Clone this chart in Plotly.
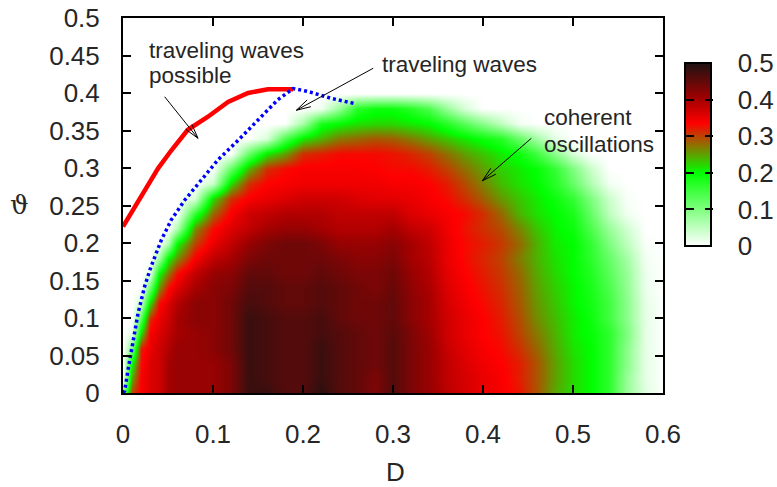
import numpy as np
import plotly.graph_objects as go

# ---------------- data ----------------
D_cols = [0.0, 0.01, 0.02, 0.03, 0.04, 0.05, 0.06,
          0.08, 0.10, 0.12, 0.14, 0.16, 0.18, 0.20, 0.22, 0.24, 0.26, 0.28, 0.30,
          0.32, 0.34, 0.36, 0.38, 0.40, 0.42, 0.44, 0.46, 0.48, 0.50, 0.52, 0.54,
          0.56, 0.58, 0.60]
theta_rows = [0.00, 0.02, 0.04, 0.06, 0.08, 0.10, 0.12, 0.14, 0.16, 0.18, 0.20,
              0.22, 0.24, 0.26, 0.28, 0.30, 0.32, 0.34, 0.36, 0.38, 0.40]

Z = [
    [0.1, 0.3, 0.34, 0.36, 0.37, 0.40, 0.41, 0.41, 0.41, 0.43, 0.48, 0.48, 0.46, 0.46, 0.49, 0.46, 0.45, 0.43, 0.46, 0.43, 0.41, 0.385, 0.365, 0.35, 0.34, 0.325, 0.29, 0.245, 0.22, 0.2, 0.165, 0.08, 0.025, 0.0],
    [0.0, 0.25, 0.34, 0.36, 0.37, 0.40, 0.41, 0.41, 0.41, 0.43, 0.48, 0.47, 0.46, 0.46, 0.48, 0.46, 0.45, 0.43, 0.46, 0.43, 0.41, 0.38, 0.365, 0.35, 0.34, 0.32, 0.29, 0.25, 0.22, 0.2, 0.165, 0.08, 0.02, 0.0],
    [0.0, 0.2, 0.33, 0.36, 0.37, 0.40, 0.41, 0.41, 0.41, 0.43, 0.48, 0.47, 0.46, 0.46, 0.48, 0.46, 0.45, 0.44, 0.46, 0.43, 0.41, 0.38, 0.36, 0.345, 0.335, 0.32, 0.29, 0.25, 0.22, 0.2, 0.165, 0.09, 0.02, 0.0],
    [0.0, 0.1, 0.32, 0.35, 0.37, 0.39, 0.41, 0.41, 0.42, 0.44, 0.48, 0.47, 0.46, 0.46, 0.48, 0.46, 0.45, 0.44, 0.46, 0.43, 0.41, 0.375, 0.355, 0.34, 0.33, 0.31, 0.28, 0.245, 0.215, 0.2, 0.165, 0.09, 0.02, 0.0],
    [0.0, 0.02, 0.22, 0.34, 0.36, 0.38, 0.40, 0.41, 0.42, 0.44, 0.48, 0.47, 0.46, 0.46, 0.47, 0.46, 0.45, 0.44, 0.455, 0.43, 0.405, 0.37, 0.35, 0.335, 0.325, 0.3, 0.27, 0.24, 0.21, 0.195, 0.165, 0.1, 0.02, 0.0],
    [0.0, 0.0, 0.13, 0.31, 0.35, 0.37, 0.40, 0.42, 0.42, 0.44, 0.48, 0.47, 0.46, 0.46, 0.47, 0.45, 0.44, 0.44, 0.45, 0.42, 0.40, 0.37, 0.35, 0.335, 0.32, 0.295, 0.26, 0.235, 0.21, 0.19, 0.15, 0.09, 0.02, 0.0],
    [0.0, 0.0, 0.04, 0.22, 0.33, 0.36, 0.39, 0.42, 0.42, 0.44, 0.47, 0.46, 0.45, 0.45, 0.46, 0.45, 0.44, 0.44, 0.45, 0.42, 0.40, 0.365, 0.345, 0.33, 0.315, 0.29, 0.255, 0.23, 0.205, 0.185, 0.15, 0.09, 0.02, 0.0],
    [0.0, 0.0, 0.0, 0.12, 0.26, 0.33, 0.36, 0.40, 0.42, 0.43, 0.46, 0.46, 0.45, 0.45, 0.46, 0.45, 0.44, 0.43, 0.445, 0.415, 0.395, 0.36, 0.34, 0.325, 0.31, 0.285, 0.25, 0.225, 0.205, 0.18, 0.14, 0.085, 0.015, 0.0],
    [0.0, 0.0, 0.0, 0.02, 0.2, 0.27, 0.33, 0.38, 0.41, 0.42, 0.45, 0.45, 0.44, 0.44, 0.45, 0.44, 0.43, 0.43, 0.44, 0.41, 0.39, 0.355, 0.335, 0.32, 0.305, 0.28, 0.245, 0.22, 0.2, 0.175, 0.13, 0.08, 0.015, 0.0],
    [0.0, 0.0, 0.0, 0.0, 0.07, 0.2, 0.26, 0.34, 0.38, 0.40, 0.43, 0.44, 0.44, 0.44, 0.44, 0.43, 0.42, 0.42, 0.43, 0.40, 0.385, 0.35, 0.33, 0.315, 0.3, 0.27, 0.24, 0.215, 0.2, 0.165, 0.12, 0.07, 0.01, 0.0],
    [0.0, 0.0, 0.0, 0.0, 0.0, 0.06, 0.2, 0.3, 0.35, 0.38, 0.41, 0.43, 0.44, 0.44, 0.43, 0.41, 0.41, 0.41, 0.42, 0.40, 0.38, 0.35, 0.33, 0.32, 0.305, 0.28, 0.24, 0.21, 0.2, 0.16, 0.1, 0.05, 0.005, 0.0],
    [0.0, 0.0, 0.0, 0.0, 0.0, 0.0, 0.06, 0.26, 0.33, 0.36, 0.38, 0.40, 0.41, 0.41, 0.40, 0.39, 0.39, 0.39, 0.40, 0.38, 0.37, 0.345, 0.325, 0.31, 0.295, 0.265, 0.23, 0.205, 0.19, 0.14, 0.08, 0.035, 0.0, 0.0],
    [0.0, 0.0, 0.0, 0.0, 0.0, 0.0, 0.0, 0.16, 0.28, 0.34, 0.37, 0.38, 0.39, 0.39, 0.39, 0.38, 0.38, 0.38, 0.38, 0.36, 0.35, 0.34, 0.33, 0.31, 0.28, 0.24, 0.215, 0.2, 0.18, 0.12, 0.05, 0.01, 0.0, 0.0],
    [0.0, 0.0, 0.0, 0.0, 0.0, 0.0, 0.0, 0.03, 0.22, 0.31, 0.34, 0.35, 0.36, 0.37, 0.37, 0.37, 0.36, 0.355, 0.355, 0.35, 0.34, 0.33, 0.31, 0.285, 0.255, 0.23, 0.21, 0.19, 0.16, 0.1, 0.04, 0.005, 0.0, 0.0],
    [0.0, 0.0, 0.0, 0.0, 0.0, 0.0, 0.0, 0.0, 0.04, 0.22, 0.31, 0.335, 0.34, 0.345, 0.345, 0.345, 0.345, 0.345, 0.34, 0.34, 0.335, 0.32, 0.295, 0.265, 0.235, 0.215, 0.2, 0.17, 0.12, 0.06, 0.01, 0.0, 0.0, 0.0],
    [0.0, 0.0, 0.0, 0.0, 0.0, 0.0, 0.0, 0.0, 0.0, 0.12, 0.24, 0.31, 0.33, 0.34, 0.34, 0.34, 0.34, 0.335, 0.33, 0.33, 0.32, 0.3, 0.275, 0.25, 0.225, 0.21, 0.195, 0.16, 0.1, 0.04, 0.0, 0.0, 0.0, 0.0],
    [0.0, 0.0, 0.0, 0.0, 0.0, 0.0, 0.0, 0.0, 0.0, 0.0, 0.12, 0.21, 0.25, 0.31, 0.32, 0.33, 0.33, 0.33, 0.325, 0.315, 0.3, 0.275, 0.25, 0.23, 0.21, 0.19, 0.15, 0.09, 0.03, 0.0, 0.0, 0.0, 0.0, 0.0],
    [0.0, 0.0, 0.0, 0.0, 0.0, 0.0, 0.0, 0.0, 0.0, 0.0, 0.0, 0.03, 0.14, 0.21, 0.24, 0.27, 0.28, 0.29, 0.285, 0.27, 0.25, 0.23, 0.21, 0.19, 0.17, 0.12, 0.07, 0.02, 0.0, 0.0, 0.0, 0.0, 0.0, 0.0],
    [0.0, 0.0, 0.0, 0.0, 0.0, 0.0, 0.0, 0.0, 0.0, 0.0, 0.0, 0.0, 0.0, 0.07, 0.18, 0.2, 0.215, 0.22, 0.22, 0.21, 0.2, 0.17, 0.13, 0.09, 0.05, 0.01, 0.0, 0.0, 0.0, 0.0, 0.0, 0.0, 0.0, 0.0],
    [0.0, 0.0, 0.0, 0.0, 0.0, 0.0, 0.0, 0.0, 0.0, 0.0, 0.0, 0.0, 0.0, 0.0, 0.01, 0.08, 0.17, 0.19, 0.19, 0.17, 0.14, 0.08, 0.03, 0.0, 0.0, 0.0, 0.0, 0.0, 0.0, 0.0, 0.0, 0.0, 0.0, 0.0],
    [0.0] * 34,
]

# "traveling waves possible" boundary (red solid)
red_D = [0.0, 0.0204, 0.039, 0.054, 0.072, 0.094, 0.1167, 0.139, 0.161, 0.189]
red_theta = [0.222, 0.262, 0.2996, 0.324, 0.351, 0.368, 0.388, 0.400, 0.405, 0.405]

# "traveling waves" boundary (blue dotted)
blue_D = [0.0, 0.0019, 0.0056, 0.011, 0.0167, 0.024, 0.031, 0.0426, 0.0537, 0.0685,
          0.087, 0.1056, 0.128, 0.15, 0.172, 0.189, 0.2056, 0.231, 0.257]
blue_theta = [0.0, 0.003, 0.031, 0.071, 0.106, 0.142, 0.168, 0.204, 0.231, 0.257,
              0.284, 0.311, 0.337, 0.364, 0.391, 0.406, 0.402, 0.393, 0.386]

x_ticks = [0, 0.1, 0.2, 0.3, 0.4, 0.5, 0.6]
x_labels = ["0", "0.1", "0.2", "0.3", "0.4", "0.5", "0.6"]
y_ticks = [0, 0.05, 0.1, 0.15, 0.2, 0.25, 0.3, 0.35, 0.4, 0.45, 0.5]
y_labels = ["0", "0.05", "0.1", "0.15", "0.2", "0.25", "0.3", "0.35", "0.4", "0.45", "0.5"]
cb_ticks = [0, 0.1, 0.2, 0.3, 0.4, 0.5]
cb_labels = ["0", "0.1", "0.2", "0.3", "0.4", "0.5"]

# ---------------- style ----------------
W, H = 777, 487
ML, MR, MT, MB = 123, 114, 18, 94
PW, PH = W - ML - MR, H - MT - MB
XR, YR = [0, 0.6], [0, 0.5]
TXT = "#262626"
FONT = "Liberation Sans, Arial, sans-serif"

colorscale = [
    [0.0, "rgb(255,255,255)"],
    [0.4, "rgb(0,255,0)"],
    [0.67, "rgb(255,0,0)"],
    [0.8, "rgb(165,0,0)"],
    [1.0, "rgb(30,18,18)"],
]
clear_scale = [[0, "rgba(0,0,0,0)"], [1, "rgba(0,0,0,0)"]]

fig = go.Figure()

cb_left, cb_right = 685, 713
cb_top, cb_bot = 62, 247
cb_y = (H - MB - (cb_top + cb_bot) / 2) / PH
fig.add_trace(go.Heatmap(
    x=D_cols, y=theta_rows, z=Z, zmin=0, zmax=0.5, zsmooth="best",
    colorscale=colorscale, hoverinfo="skip",
    colorbar=dict(
        x=(cb_left - ML) / PW, xanchor="left", xpad=0,
        y=cb_y, yanchor="middle", ypad=0,
        len=cb_bot - cb_top - 2, lenmode="pixels",
        thickness=cb_right - cb_left - 2, thicknessmode="pixels",
        outlinewidth=2, outlinecolor="black",
        ticks="outside", ticklen=21, tickwidth=1, tickcolor="rgba(0,0,0,0)",
        tickvals=cb_ticks, ticktext=cb_labels,
        tickfont=dict(family=FONT, size=26, color=TXT),
    ),
))

# transparent helper scales that only draw the inner tick marks of the colour bar
for xpos in (cb_left, cb_right - 9):
    fig.add_trace(go.Scatter(
        x=[-1], y=[-1], mode="markers", hoverinfo="skip", showlegend=False,
        marker=dict(color=[0], cmin=0, cmax=0.5, colorscale=clear_scale,
                    opacity=0, showscale=True,
                    colorbar=dict(
                        x=(xpos - ML) / PW, xanchor="left", xpad=0,
                        y=cb_y, yanchor="middle", ypad=0,
                        len=cb_bot - cb_top - 2, lenmode="pixels",
                        thickness=1, thicknessmode="pixels", outlinewidth=0,
                        ticks="outside", ticklen=8, tickwidth=2, tickcolor="black",
                        tickvals=cb_ticks[1:-1], showticklabels=False)),
    ))

fig.add_trace(go.Scatter(x=red_D, y=red_theta, mode="lines",
                         line=dict(color="rgb(255,0,0)", width=4.5),
                         hoverinfo="skip", showlegend=False))
fig.add_trace(go.Scatter(x=blue_D, y=blue_theta, mode="lines",
                         line=dict(color="rgb(0,0,255)", width=3.5, dash="3px,3px"),
                         hoverinfo="skip", showlegend=False))

# arrows with open heads
sx = PW / (XR[1] - XR[0])
sy = PH / (YR[1] - YR[0])


def arrow_path(tail, head, L=15, ang=15):
    tx, ty = tail[0] * sx, tail[1] * sy
    hx, hy = head[0] * sx, head[1] * sy
    a = np.arctan2(ty - hy, tx - hx)
    p = f"M {tail[0]} {tail[1]} L {head[0]} {head[1]} "
    for s in (-1, 1):
        b = a + s * np.radians(ang)
        wx, wy = (hx + L * np.cos(b)) / sx, (hy + L * np.sin(b)) / sy
        p += f"M {head[0]} {head[1]} L {wx:.5f} {wy:.5f} "
    return p


arrows = [((0.0463, 0.395), (0.0833, 0.3396)),
          ((0.278, 0.433), (0.1926, 0.377)),
          ((0.4537, 0.3396), (0.3993, 0.283))]
shapes = [dict(type="path", xref="x", yref="y", path=arrow_path(t, h),
               line=dict(color="black", width=1)) for t, h in arrows]

ann_font = dict(family=FONT, size=22.5, color=TXT)
texts = [("traveling waves", 0.0267, 0.457), ("possible", 0.0267, 0.4236),
         ("traveling waves", 0.2856, 0.438),
         ("coherent", 0.4656, 0.3676), ("oscillations", 0.4656, 0.332)]
annotations = [dict(text=t, x=x, y=y, xref="x", yref="y", xanchor="left",
                    yanchor="middle", showarrow=False, font=ann_font)
               for t, x, y in texts]
annotations.append(dict(text="D", x=(395 - ML) / PW, y=(H - MB - 472) / PH,
                        xref="paper", yref="paper", showarrow=False,
                        xanchor="center", yanchor="middle",
                        font=dict(family=FONT, size=26, color=TXT)))
annotations.append(dict(text="\u03d1", x=(19 - ML) / PW, y=(H - MB - 205) / PH,
                        xref="paper", yref="paper", showarrow=False,
                        xanchor="center", yanchor="middle",
                        font=dict(family="DejaVu Serif, serif", size=26, color=TXT)))

axis_common = dict(showline=True, linewidth=2, linecolor="black", mirror="ticks",
                   ticks="inside", ticklen=8, tickwidth=2, tickcolor="black",
                   showgrid=False, zeroline=False, automargin=False,
                   tickfont=dict(family=FONT, size=26, color=TXT))

fig.update_layout(
    width=W, height=H,
    margin=dict(l=ML, r=MR, t=MT, b=MB, pad=0, autoexpand=False),
    paper_bgcolor="white", plot_bgcolor="white",
    showlegend=False,
    xaxis=dict(range=XR, tickvals=x_ticks, ticktext=x_labels,
               ticklabelstandoff=17, **axis_common),
    yaxis=dict(range=YR, tickvals=y_ticks, ticktext=y_labels,
               ticklabelstandoff=16, **axis_common),
    shapes=shapes, annotations=annotations,
)

fig.write_html("out.html", config={"displayModeBar": False},
               post_script="document.body.style.margin='0px';"
                           "document.body.style.overflow='hidden';")
